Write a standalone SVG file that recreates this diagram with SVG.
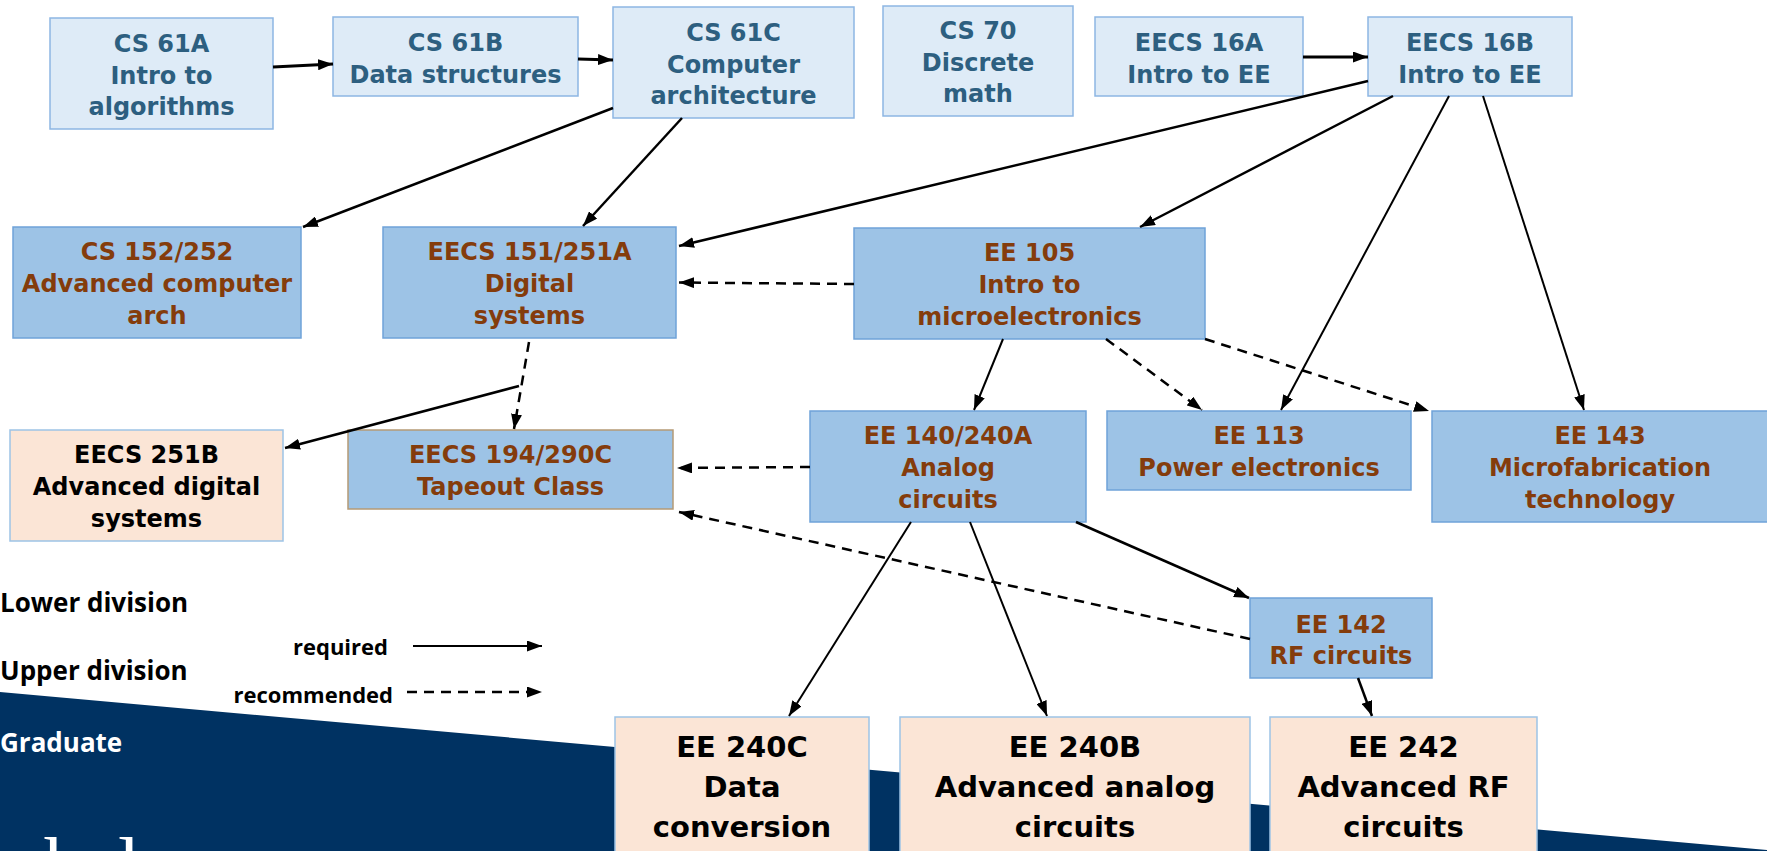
<svg xmlns="http://www.w3.org/2000/svg" width="1767" height="851" viewBox="0 0 1767 851">
  <style>
    .lower rect { fill: #deebf7; stroke: #8db6e3; stroke-width: 1.5; }
    .upper rect { fill: #9dc3e6; stroke: #6fa3d9; stroke-width: 1.5; }
    .grad rect { fill: #fbe5d6; stroke: #9dc3e6; stroke-width: 1.5; }
    .lower text { fill: #2d5f80; }
    .upper text { fill: #843c0c; }
    .grad text { fill: #000; }
    .node text { font-family: 'DejaVu Sans', 'Liberation Sans', sans-serif; font-weight: bold; font-size: 24px; text-anchor: middle; }
    .big text { font-size: 29px; }
    .req { fill: none; stroke: #000; stroke-width: 2; marker-end: url(#head); }
    .rec { fill: none; stroke: #000; stroke-width: 2.5; stroke-dasharray: 10 7; marker-end: url(#head); }
    .tier { font-family: 'Open Sans', 'Liberation Sans', sans-serif; font-weight: bold; font-size: 26px; }
    .key { font-family: 'Open Sans', 'Liberation Sans', sans-serif; font-weight: bold; font-size: 22px; text-anchor: end; }
  </style>
  <defs>
    <marker id="head" markerUnits="userSpaceOnUse" markerWidth="15" markerHeight="11" refX="15" refY="5.5" orient="auto">
      <path d="M0,0 L15,5.5 L0,11 Z" fill="#000"/>
    </marker>
  </defs>

  <rect width="1767" height="851" fill="#fff"/>

  <!-- graduate band with the wordmark running off the bottom edge -->
  <polygon points="0,692 1767,850 1767,851 0,851" fill="#003262"/>
  <text x="-72 -19 16 43 83 118 141 176" y="893" font-family="'Liberation Serif', serif" font-size="80" fill="#fff">Berkeley</text>

  <!-- tier labels and key -->
  <text class="tier" x="0" y="612" fill="#000">Lower division</text>
  <text class="tier" x="0" y="680" fill="#000">Upper division</text>
  <text class="tier" x="0" y="752" fill="#fff">Graduate</text>
  <text class="key" x="388" y="655">required</text>
  <text class="key" x="393" y="703">recommended</text>
  <path class="req" d="M413,646 L542,646"/>
  <path class="rec" d="M407,692 L542,692"/>

  <!-- lower division -->
  <g id="cs61a" class="node lower">
    <rect x="50" y="18" width="223" height="111"/>
    <text x="161.5" y="52">CS 61A</text>
    <text x="161.5" y="83.5">Intro to</text>
    <text x="161.5" y="115">algorithms</text>
  </g>
  <g id="cs61b" class="node lower">
    <rect x="333" y="17" width="245" height="79"/>
    <text x="455.5" y="51">CS 61B</text>
    <text x="455.5" y="83">Data structures</text>
  </g>
  <g id="cs61c" class="node lower">
    <rect x="613" y="7" width="241" height="111"/>
    <text x="733.5" y="41">CS 61C</text>
    <text x="733.5" y="72.5">Computer</text>
    <text x="733.5" y="104">architecture</text>
  </g>
  <g id="cs70" class="node lower">
    <rect x="883" y="6" width="190" height="110"/>
    <text x="978" y="39">CS 70</text>
    <text x="978" y="70.5">Discrete</text>
    <text x="978" y="102">math</text>
  </g>
  <g id="eecs16a" class="node lower">
    <rect x="1095" y="17" width="208" height="79"/>
    <text x="1199" y="51">EECS 16A</text>
    <text x="1199" y="83">Intro to EE</text>
  </g>
  <g id="eecs16b" class="node lower">
    <rect x="1368" y="17" width="204" height="79"/>
    <text x="1470" y="51">EECS 16B</text>
    <text x="1470" y="83">Intro to EE</text>
  </g>

  <!-- upper division -->
  <g id="cs152" class="node upper">
    <rect x="13" y="227" width="288" height="111"/>
    <text x="157" y="260">CS 152/252</text>
    <text x="157" y="292">Advanced computer</text>
    <text x="157" y="324">arch</text>
  </g>
  <g id="eecs151" class="node upper">
    <rect x="383" y="227" width="293" height="111"/>
    <text x="529.5" y="260">EECS 151/251A</text>
    <text x="529.5" y="292">Digital</text>
    <text x="529.5" y="324">systems</text>
  </g>
  <g id="ee105" class="node upper">
    <rect x="854" y="228" width="351" height="111"/>
    <text x="1029.5" y="261">EE 105</text>
    <text x="1029.5" y="293">Intro to</text>
    <text x="1029.5" y="325">microelectronics</text>
  </g>
  <g id="eecs194" class="node upper">
    <rect x="348" y="430" width="325" height="79" style="stroke:#b59a76"/>
    <text x="510.5" y="463">EECS 194/290C</text>
    <text x="510.5" y="495">Tapeout Class</text>
  </g>
  <g id="ee140" class="node upper">
    <rect x="810" y="411" width="276" height="111"/>
    <text x="948" y="444">EE 140/240A</text>
    <text x="948" y="476">Analog</text>
    <text x="948" y="508">circuits</text>
  </g>
  <g id="ee113" class="node upper">
    <rect x="1107" y="411" width="304" height="79"/>
    <text x="1259" y="444">EE 113</text>
    <text x="1259" y="476">Power electronics</text>
  </g>
  <g id="ee143" class="node upper">
    <rect x="1432" y="411" width="338" height="111"/>
    <text x="1600" y="444">EE 143</text>
    <text x="1600" y="476">Microfabrication</text>
    <text x="1600" y="508">technology</text>
  </g>
  <g id="ee142" class="node upper">
    <rect x="1250" y="598" width="182" height="80"/>
    <text x="1341" y="633">EE 142</text>
    <text x="1341" y="664">RF circuits</text>
  </g>

  <!-- graduate -->
  <g id="eecs251b" class="node grad">
    <rect x="10" y="430" width="273" height="111"/>
    <text x="146.5" y="463">EECS 251B</text>
    <text x="146.5" y="495">Advanced digital</text>
    <text x="146.5" y="527">systems</text>
  </g>
  <g id="ee240c" class="node grad big">
    <rect x="615" y="717" width="254" height="150"/>
    <text x="742" y="757">EE 240C</text>
    <text x="742" y="797">Data</text>
    <text x="742" y="837">conversion</text>
  </g>
  <g id="ee240b" class="node grad big">
    <rect x="900" y="717" width="350" height="150"/>
    <text x="1075" y="757">EE 240B</text>
    <text x="1075" y="797">Advanced analog</text>
    <text x="1075" y="837">circuits</text>
  </g>
  <g id="ee242" class="node grad big">
    <rect x="1270" y="717" width="267" height="150"/>
    <text x="1403.5" y="757">EE 242</text>
    <text x="1403.5" y="797">Advanced RF</text>
    <text x="1403.5" y="837">circuits</text>
  </g>

  <!-- prerequisite connectors -->
  <g id="connectors">
    <path class="req" style="stroke-width:3" d="M273,67 L333,64"/>
    <path class="req" style="stroke-width:3" d="M578,59 L613,60"/>
    <path class="req" style="stroke-width:2.5" d="M613,108 L303,227"/>
    <path class="req" style="stroke-width:2.5" d="M682,118 L583,226"/>
    <path class="req" style="stroke-width:3" d="M1303,57 L1368,57"/>
    <path class="req" style="stroke-width:2.5" d="M1368,81 L679,246"/>
    <path class="req" style="stroke-width:2.5" d="M1393,96 L1140,227"/>
    <path class="req" d="M1449,96 L1281,410"/>
    <path class="req" d="M1483,96 L1584,410"/>
    <path class="req" d="M1003,339 L974,410"/>
    <path class="req" d="M911,522 L789,716"/>
    <path class="req" d="M970,522 L1047,716"/>
    <path class="req" style="stroke-width:2.5" d="M1076,522 L1249,598"/>
    <path class="req" style="stroke-width:2.5" d="M1358,678 L1372,716"/>
    <path class="req" style="stroke-width:2.5" d="M519,386 L285,448"/>

    <path class="rec" d="M854,284 L679,282.5"/>
    <path class="rec" d="M529,342 L514,429"/>
    <path class="rec" d="M1106,339 L1202,410"/>
    <path class="rec" d="M1205,339 L1429,411"/>
    <path class="rec" d="M810,467 L677,468"/>
    <path class="rec" d="M1250,639 L679,512"/>
  </g>
</svg>
